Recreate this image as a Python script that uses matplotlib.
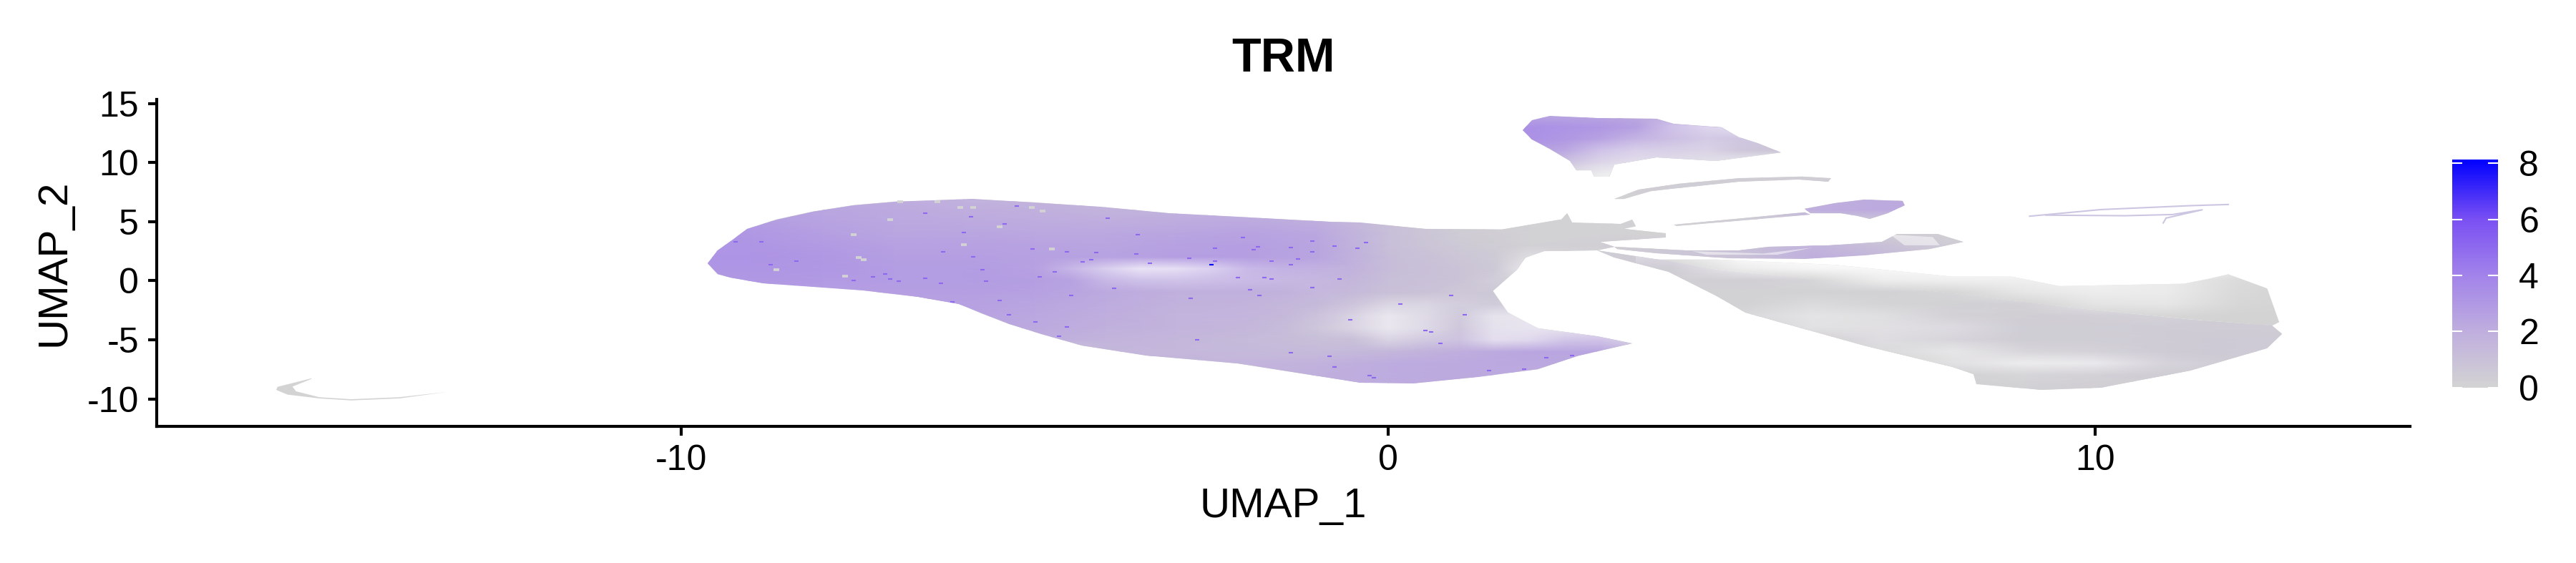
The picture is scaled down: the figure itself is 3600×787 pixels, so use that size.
import matplotlib
matplotlib.use("Agg")
import matplotlib.pyplot as plt
from matplotlib.colors import LinearSegmentedColormap, Normalize
from matplotlib.patches import Polygon, PathPatch
from matplotlib.path import Path
from matplotlib.cm import ScalarMappable
import numpy as np

plt.rcParams['font.family'] = ['Liberation Sans', 'DejaVu Sans']
plt.rcParams['axes.unicode_minus'] = False

# outlines of the cell clouds (UMAP coordinates)
body_x = [-9.63,-9.49,-9.27,-9.07,-8.65,-8.14,-7.56,-6.98,-5.88,-5.04,-4.07,-3.10,-2.13,-0.84,-0.40,0.52,1.61,2.45,2.53,2.60,3.29,3.45,3.50,3.33,3.92,3.92,2.99,3.2,2.95,2.2,1.94,1.82,1.48,1.69,2.11,2.95,3.45,2.70,2.11,1.27,0.35,-0.40,-1.17,-2.13,-3.43,-4.33,-4.91,-5.36,-5.75,-6.07,-6.65,-7.43,-8.14,-8.85,-9.30,-9.49]
body_y = [1.46,2.57,3.48,4.39,5.2,5.86,6.4,6.7,6.9,6.65,6.24,5.70,5.4,5.0,4.9,4.39,4.35,5.2,5.7,4.9,4.8,5.15,4.6,4.4,4.0,3.68,3.28,2.88,2.57,2.5,1.97,0.96,-0.85,-2.67,-4.0,-4.7,-5.3,-6.3,-7.5,-8.11,-8.68,-8.6,-7.9,-7.0,-6.3,-5.49,-4.48,-3.68,-2.77,-1.96,-1.36,-0.81,-0.49,-0.19,0.25,0.56]
tail_x = [2.95,3.96,4.63,6.31,7.98,9.66,11.34,12.5,12.64,12.43,11.34,10.08,9.24,8.32,8.28,7.98,6.73,5.89,5.05,4.63,3.96,3.2]
tail_y = [2.57,1.67,0.96,-0.05,-1.06,-2.27,-3.27,-3.8,-4.48,-5.69,-7.6,-9.02,-9.22,-8.72,-7.9,-7.3,-5.49,-4.08,-2.67,-1.26,0.76,1.97]
tail_top_x = [3.79,4.63,6.31,7.98,8.82,9.49,11.25,11.59,11.88,12.43,12.6,12.5,11.34,9.66,7.98,6.31,4.63]
tail_top_y = [1.8,1.8,1.35,0.35,0.35,-0.45,-0.25,0.15,0.55,-0.65,-3.5,-3.8,-3.27,-2.27,-1.06,-0.05,0.96]
crescent_x = [3.2,4.21,4.96,5.38,6.22,6.98,7.19,7.77,8.13,7.65,6.73,5.89,4.8,3.79,3.24]
crescent_y = [2.88,2.57,2.57,2.88,2.98,3.28,3.94,3.94,3.28,2.67,2.17,1.87,1.93,2.33,2.67]
top_x = [1.90,2.03,2.28,2.95,3.79,4.04,4.71,4.96,5.22,5.55,4.63,3.79,3.2,3.12,2.91,2.87,2.66,2.57,2.28,2.03]
top_y = [12.75,13.56,13.92,13.76,13.7,13.26,12.96,12.15,11.65,10.84,10.13,10.44,9.83,8.8,8.8,9.33,9.33,10.13,11.14,11.95]
ribbon_x = [3.2,3.54,4.12,4.96,5.85,6.26,6.22,5.8,4.96,4.29,3.71,3.33]
ribbon_y = [6.91,7.71,8.22,8.66,8.82,8.66,8.38,8.58,8.38,7.98,7.57,6.91]
mid_x = [5.89,6.31,6.73,7.27,7.3,7.06,6.81,6.64,6.4,5.97]
mid_y = [6.1,6.56,6.85,6.77,6.4,5.7,5.23,5.5,5.7,5.7]
line_x = [4.04,5.89,5.97,4.08]
line_y = [4.73,5.8,5.6,4.65]
tip_x = [-15.23,-15.71,-15.73,-15.57,-15.12,-14.67,-13.99,-13.31,-13.99,-14.67,-15.12,-15.45,-15.5,-15.23]
tip_y = [-8.25,-8.97,-9.23,-9.63,-9.95,-10.12,-9.95,-9.4,-9.85,-10.02,-9.85,-9.35,-8.95,-8.3]

# thin streak on the upper right
streak_x = [[9.07,10.08,11.34,11.88],[9.3,10.42,11.09,11.51,11.0],[11.0,10.96]]
streak_y = [[5.46,6.02,6.35,6.45],[5.55,5.5,5.6,6.0,5.3],[5.3,4.89]]

# small holes in the crescent
crescent_gap_x = [4.3,5.3,6.0,5.5,4.5]
crescent_gap_y = [2.5,2.3,2.8,2.2,2.2]
crescent_gap2_x = [7.1,7.7,7.8,7.3]
crescent_gap2_y = [3.9,3.7,3.0,3.0]

# mean expression on a coarse grid, 1 UMAP unit per step
grid_x = list(range(-10, 14))
grid_y = list(range(-10, 15))
grid_values = [
    # -10  -9   -8   -7   -6   -5   -4   -3   -2   -1    0    1    2    3    4    5    6    7    8    9   10   11   12   13
    [0,   0,   0,   0,   0,   0,   0,   0,   0,   0,   0,   0,   0,   0,   0,   0,   0,   0,   0,   .1,  .1,  .2,  .2,  .2],
    [0,   0,   0,   0,   0,   0,   0,   0,   1.6, 1.9, 2.1, 2.2, 2.2, 2,   0,   0,   0,   0,   .1,  .1,  .2,  .3,  .3,  .3],
    [0,   0,   0,   0,   0,   0,   0,   0,   1.6, 1.9, 2.1, 2.2, 2.2, 2,   0,   0,   0,   0,   .1,  .1,  .2,  .3,  .3,  .3],
    [0,   0,   0,   0,   0,   0,   1.4, 1.6, 1.6, 1.8, 2.1, 2.2, 2.3, 2.2, 0,   0,   0,   0,   .1,  .2,  .3,  .4,  .4,  .4],
    [0,   0,   0,   0,   0,   0,   1.5, 1.5, 1.4, 1.3, 1.5, 2.0, 2.4, 2.4, 0,   0,   .1,  .1,  .1,  .2,  .3,  .4,  .5,  .5],
    [0,   0,   0,   0,   0,   2.0, 1.7, 1.5, 1.3, 1.1, 1.0, 1.4, 1.8, 2.2, 0,   .1,  .1,  .2,  .3,  .3,  .3,  .4,  .5,  .5],
    [0,   0,   0,   0,   2.4, 2.2, 1.9, 1.7, 1.5, 1.0, .8,  1.0, 1.2, 1.4, .1,  .1,  .1,  .2,  .4,  .3,  .3,  .4,  .4,  .4],
    [0,   0,   0,   2.6, 2.5, 2.3, 2.0, 1.7, 1.6, 1.2, .8,  .8,  1.0, 1.0, .1,  .1,  .1,  .1,  .2,  .2,  .3,  .3,  .4,  .4],
    [0,   0,   0,   2.6, 2.6, 2.4, 2.1, 1.8, 1.7, 1.3, .8,  .7,  .6,  .5,  .1,  .1,  .1,  .1,  .1,  .2,  .2,  .3,  .3,  .3],
    [0,   2.9, 2.7, 2.7, 2.7, 2.6, 2.2, 1.9, 1.9, 1.6, 1.0, .7,  .4,  .3,  .1,  .1,  .1,  .1,  .1,  .1,  .2,  .2,  .3,  .3],
    [3.0, 3.0, 2.9, 2.8, 2.8, 2.7, 2.4, 2.2, 2.2, 1.9, 1.1, .8,  .3,  .2,  .2,  .2,  .1,  .1,  .1,  .1,  .1,  .2,  .2,  .2],
    [3.1, 3.1, 3.0, 2.8, 2.8, 2.6, 2.4, 2.5, 2.5, 2.2, 1.2, .8,  .3,  .3,  .3,  .3,  .2,  .2,  .1,  .1,  .1,  .2,  .2,  .2],
    [3.2, 3.2, 3.0, 2.7, 2.7, 2.6, 2.5, 2.7, 2.7, 2.4, 1.2, .7,  .2,  .3,  .6,  .9,  2.0, 1.4, .5,  0,   0,   0,   0,   0],
    [3.2, 3.1, 2.9, 2.6, 2.6, 2.5, 2.4, 2.6, 2.7, 2.4, 1.1, .5,  .1,  .2,  .6,  1.0, 1.6, 1.0, .4,  0,   0,   0,   0,   0],
    [3.2, 3.0, 2.7, 2.4, 2.4, 2.3, 2.3, 2.4, 2.5, 2.3, 1.1, .4,  .1,  .1,  0,   0,   .3,  .3,  .1,  0,   0,   0,   0,   0],
    [3.0, 2.8, 2.5, 2.3, 2.2, 2.1, 2.0, 2.1, 2.2, 2.0, 1.0, .3,  .1,  .1,  .2,  .3,  .4,  .5,  0,   .6,  .6,  .8,  .8,  0],
    [2.8, 2.6, 2.4, 2.2, 2.0, 1.9, 1.7, 1.8, 1.8, 1.6, .8,  .2,  .1,  .1,  .3,  .3,  2.0, 2.2, 2.2, .6,  .6,  .8,  .8,  0],
    [2.6, 2.4, 2.2, 2.0, 1.8, 1.7, 1.5, 1.4, 1.4, 1.2, .5,  .1,  .1,  0,   .3,  .3,  1.8, 2.2, 2.2, 0,   0,   0,   0,   0],
    [0,   0,   0,   0,   0,   0,   0,   0,   0,   0,   0,   0,   0,   .2,  .3,  .4,  .5,  .5,  0,   0,   0,   0,   0,   0],
    [0,   0,   0,   0,   0,   0,   0,   0,   0,   0,   0,   0,   .1,  .2,  .2,  .2,  .2,  0,   0,   0,   0,   0,   0,   0],
    [0,   0,   0,   0,   0,   0,   0,   0,   0,   0,   0,   0,   1.4, 1.3, .9,  .6,  .3,  0,   0,   0,   0,   0,   0,   0],
    [0,   0,   0,   0,   0,   0,   0,   0,   0,   0,   0,   2.7, 2.7, 2.2, 1.4, .9,  .5,  0,   0,   0,   0,   0,   0,   0],
    [0,   0,   0,   0,   0,   0,   0,   0,   0,   0,   0,   3.3, 3.3, 2.7, 1.9, 1.4, 1.0, 0,   0,   0,   0,   0,   0,   0],
    [0,   0,   0,   0,   0,   0,   0,   0,   0,   0,   0,   3.4, 3.4, 3.0, 2.3, 1.8, 1.2, 0,   0,   0,   0,   0,   0,   0],
    [0,   0,   0,   0,   0,   0,   0,   0,   0,   0,   0,   2.4, 2.4, 2.4, 1.9, 1.6, 1.0, 0,   0,   0,   0,   0,   0,   0],
]

# how thin the cells get (share of white showing), main body
gap_x = [-5,-4.5,-4,-3.5,-3,-2.5,-2,-1.5,-1,-.5,0,.5,1,1.5,2,2.5,3,3.5]
gap_y = [-6,-5,-4,-3,-2,-1,0,1,2,3]
gap_values = [
    [0, 0,  0,  0,  0,  0,  0,  0,  0,  0,  0,  0,  0,  0,  0,  0,  0,  0],
    [0, 0,  0,  0,  0,  0,  0,  0,  0,  0,  .3, .2, .15,.55,.5, .3, .3, .3],
    [0, 0,  0,  0,  0,  0,  0,  0,  .1, .3, .6, .4, .12,.55,.6, .6, .6, .6],
    [0, 0,  0,  0,  0,  0,  0,  0,  .1, .3, .6, .4, .12,.55,.6, .6, .6, .6],
    [0, 0,  0,  0,  0,  0,  0,  0,  0,  .1, .3, .3, .15,.1, .2, .2, .2, .2],
    [0, 0,  0,  0,  0,  0,  0,  0,  .05,0,  0,  0,  .05,0,  0,  0,  0,  0],
    [0, 0,  .2, .3, .3, .25,.2, .15,.1, 0,  0,  0,  0,  .1, .1, .1, .1, 0],
    [0, .2, .45,.7, .65,.5, .25,.15,.1, 0,  0,  0,  0,  0,  .6, .65,.5, .4],
    [0, 0,  0,  0,  0,  0,  0,  0,  0,  0,  0,  0,  0,  0,  .3, .2, .1, .2],
    [0, 0,  0,  0,  0,  0,  0,  0,  0,  0,  0,  0,  0,  0,  0,  0,  0,  0],
]
# same for the tail on the right
tail_gap_x = [4,5,6,7,8,9,10,11,12,13]
tail_gap_y = [-9,-8,-7,-6,-5,-4,-3,-2,-1,0,1,2]
tail_gap_values = [
    [0, 0,  0,  0,  0,  0,  0,  0,  0,  0],
    [0, 0,  0,  0,  0,  .1, .05,0,  0,  0],
    [0, 0,  0,  0,  .35,.6, .55,.15,0,  0],
    [0, 0,  0,  .2, .45,.15,.1, 0,  0,  0],
    [0, 0,  0,  .3, .15,0,  0,  0,  0,  0],
    [0, 0,  .35,.35,.3, 0,  0,  0,  0,  0],
    [0, .15,.4, .3, .05,0,  .05,.1, 0,  0],
    [0, 0,  .2, .05,0,  .05,.4, .45,.1, 0],
    [0, 0,  0,  0,  .1, .45,.6, .55,.15,0],
    [0, 0,  .1, .6, .65,.65,.7, .55,.2, 0],
    [0, .6, .8, .85,.9, 1,  1,  1,  .5, 0],
    [.3,.9, 1,  1,  1,  1,  1,  1,  1,  1],
]
# and the cluster on top
top_gap_x = [2,2.5,3,3.5,4,4.5,5,5.5]
top_gap_y = [9,10,11,12,13,14]
top_gap_values = [
    [.3, .3, .6, .8, 1,  1,  1,  1],
    [0,  .15,.4, .5, .45,.45,.6, .8],
    [0,  .05,.3, .4, .35,.35,.1, 0],
    [0,  0,  .05,.15,.2, .3, .2, .2],
    [0,  0,  0,  0,  .3, .5, .6, .6],
    [0,  0,  0,  0,  0,  0,  0,  0],
]

# brighter single cells that stand out
bright_x = [-9.23,-7.12,-7.05,-6.55,-6.33,-6.3,-5.74,-5.69,-5.87,-4.93,-5.5,-6.17,-4.72,-6.92,-7.56,-7.29,-8.74,-8.37,-8.87,-5.9,-5.26,-6.0,-5.03,-5.43,-6.55,-4.66,-4.99,-5.37,
            -4.32,-4.2,-4.55,-4.13,-3.56,-3.37,-2.82,-2.45,-2.45,-2.06,-1.91,-1.84,-1.38,-1.08,-1.08,-0.76,-0.32,-0.44,-1.65,-1.38,-1.28,-1.75,-2.13,-1.96,-2.8,-3.88,-4.49,-3.54,-3.97,-0.83,-0.2,-0.76,-1.38,-2.7,-4.55,
            -0.69,-1.65,-1.08,-1.82,0.89,0.17,0.52,0.6,0.74,-0.76,1.42,1.92,2.6,2.23,-0.27,1.08,-0.54]
bright_y = [3.32,0.56,0.15,0.19,-0.21,2.43,0.96,-0.05,2.01,0.31,-1.66,-1.76,0.76,-0.05,0.05,0.35,1.36,1.66,3.28,5.39,6.3,4.08,2.67,4.79,5.7,-4.69,-3.48,-2.87,
            1.6,1.8,2.47,2.37,2.27,1.46,1.93,2.73,1.66,3.68,2.61,2.87,2.83,3.38,2.43,2.93,3.22,2.73,1.66,1.36,1.87,0.25,0.25,-0.76,-1.46,-0.65,-1.26,3.88,5.29,-6.4,-8.2,-7.3,-6.1,-5,-3.88,
            0.15,0.15,-0.6,-1.26,-1.26,-1.96,-4.18,-4.3,-5.3,-7.3,-7.6,-7.5,-6.34,-6.5,-8.0,-2.87,-3.3]
# the one pure blue cell
peak_x = [-2.5]
peak_y = [1.36]
# plain grey cells on the purple part
grey_x = [-7.56,-7.42,-7.49,-8.66,-7.68,-5.87,-6.05,-5.04,-4.89,-6.9,-6.38,-7.05,-6.0,-5.5,-4.76]
grey_y = [3.88,1.76,1.96,0.96,0.39,6.2,6.2,6.2,5.9,6.7,6.7,5.2,3.07,4.59,2.67]

x_ticks = [-10, 0, 10]
y_ticks = [-10, -5, 0, 5, 10, 15]
bar_ticks = [0, 2, 4, 6, 8]
expr_max = 8.14
bright_level = 5.0

cmap = LinearSegmentedColormap.from_list("trm", [
    (0, "#d3d3d3"), (2 / expr_max, "#bfaede"), (4 / expr_max, "#a283ea"),
    (6 / expr_max, "#7a50f3"), (1, "#0000ff")])
norm = Normalize(0, expr_max)
white_fade = LinearSegmentedColormap.from_list("fade", [(1, 1, 1, 0), (1, 1, 1, 1)])


def closed(sx, sy):
    return Path(np.c_[sx + sx[:1], sy + sy[:1]], closed=True)


def soft_gap(ax, xs, ys, values, clip):
    dx = xs[1] - xs[0]
    dy = ys[1] - ys[0]
    im = ax.imshow(np.array(values, float), origin="lower", aspect="auto", cmap=white_fade,
                   vmin=0, vmax=1, interpolation="bilinear", zorder=3,
                   extent=(xs[0] - dx / 2, xs[-1] + dx / 2, ys[0] - dy / 2, ys[-1] + dy / 2))
    im.set_clip_path(PathPatch(clip, transform=ax.transData))


fig = plt.figure(figsize=(12, 787 / 300), dpi=300)
ax = fig.add_axes([219 / 3600, (787 - 595.6) / 787, (3368 - 219) / 3600, (595.6 - 139.4) / 787])

shapes = [(body_x, body_y), (tail_x, tail_y), (crescent_x, crescent_y), (top_x, top_y),
          (ribbon_x, ribbon_y), (mid_x, mid_y), (line_x, line_y)]
for sx, sy in shapes:
    ax.add_patch(Polygon(np.c_[sx, sy], fc="#d3d3d3", ec="none", zorder=1))
ax.add_patch(Polygon(np.c_[tail_top_x, tail_top_y], fc="#d3d3d3", ec="none", zorder=1))
ax.add_patch(Polygon(np.c_[tip_x, tip_y], fc="#d3d3d3", ec="none", zorder=1))
for sx, sy in zip(streak_x, streak_y):
    ax.plot(sx, sy, color="#cdc6e2", lw=0.5, zorder=1)

mesh = ax.pcolormesh(grid_x, grid_y, np.array(grid_values, float), shading="gouraud",
                     cmap=cmap, norm=norm, zorder=2)
clip = Path.make_compound_path(*[closed(sx, sy) for sx, sy in shapes])
mesh.set_clip_path(PathPatch(clip, transform=ax.transData))

soft_gap(ax, gap_x, gap_y, gap_values, closed(body_x, body_y))
soft_gap(ax, tail_gap_x, tail_gap_y, tail_gap_values,
         Path.make_compound_path(closed(tail_x, tail_y), closed(tail_top_x, tail_top_y)))
soft_gap(ax, top_gap_x, top_gap_y, top_gap_values, closed(top_x, top_y))
for gx, gy in [(crescent_gap_x, crescent_gap_y), (crescent_gap2_x, crescent_gap2_y)]:
    ax.add_patch(Polygon(np.c_[gx, gy], fc="white", ec="none", alpha=0.5, zorder=3))

ax.scatter(grey_x, grey_y, color="#d3d3d3", marker="_", s=3, linewidths=0.9, zorder=4)
ax.scatter(bright_x, bright_y, color=cmap(norm(bright_level)), marker="_", s=2.2, linewidths=0.5, zorder=4)
ax.scatter(peak_x, peak_y, color=cmap(norm(expr_max)), marker="_", s=2.2, linewidths=0.5, zorder=5)

ax.set_xlim(-17.42, 14.45)
ax.set_ylim(-12.29, 15.31)
ax.set_xticks(x_ticks)
ax.set_yticks(y_ticks)
ax.tick_params(labelsize=12, length=3, width=1, pad=3, color="black")
ax.spines["top"].set_visible(False)
ax.spines["right"].set_visible(False)
ax.spines["left"].set_linewidth(1)
ax.spines["bottom"].set_linewidth(1)
ax.set_xlabel("UMAP_1", fontsize=14, labelpad=3.5)
ax.set_ylabel("UMAP_2", fontsize=14, labelpad=4.7)
ax.set_title("TRM", fontsize=16, fontweight="bold", pad=9.5)

cax = fig.add_axes([3427 / 3600, (787 - 541.7) / 787, 64 / 3600, 319 / 787])
cb = fig.colorbar(ScalarMappable(norm=norm, cmap=cmap), cax=cax, ticks=bar_ticks)
cb.outline.set_visible(False)
cb.ax.tick_params(labelsize=12, length=0, pad=7)
for t in bar_ticks:
    cax.plot([0, 0.2], [t, t], color="white", lw=0.5, transform=cax.get_yaxis_transform())
    cax.plot([0.8, 1], [t, t], color="white", lw=0.5, transform=cax.get_yaxis_transform())

fig.savefig("out.png", dpi=300)
